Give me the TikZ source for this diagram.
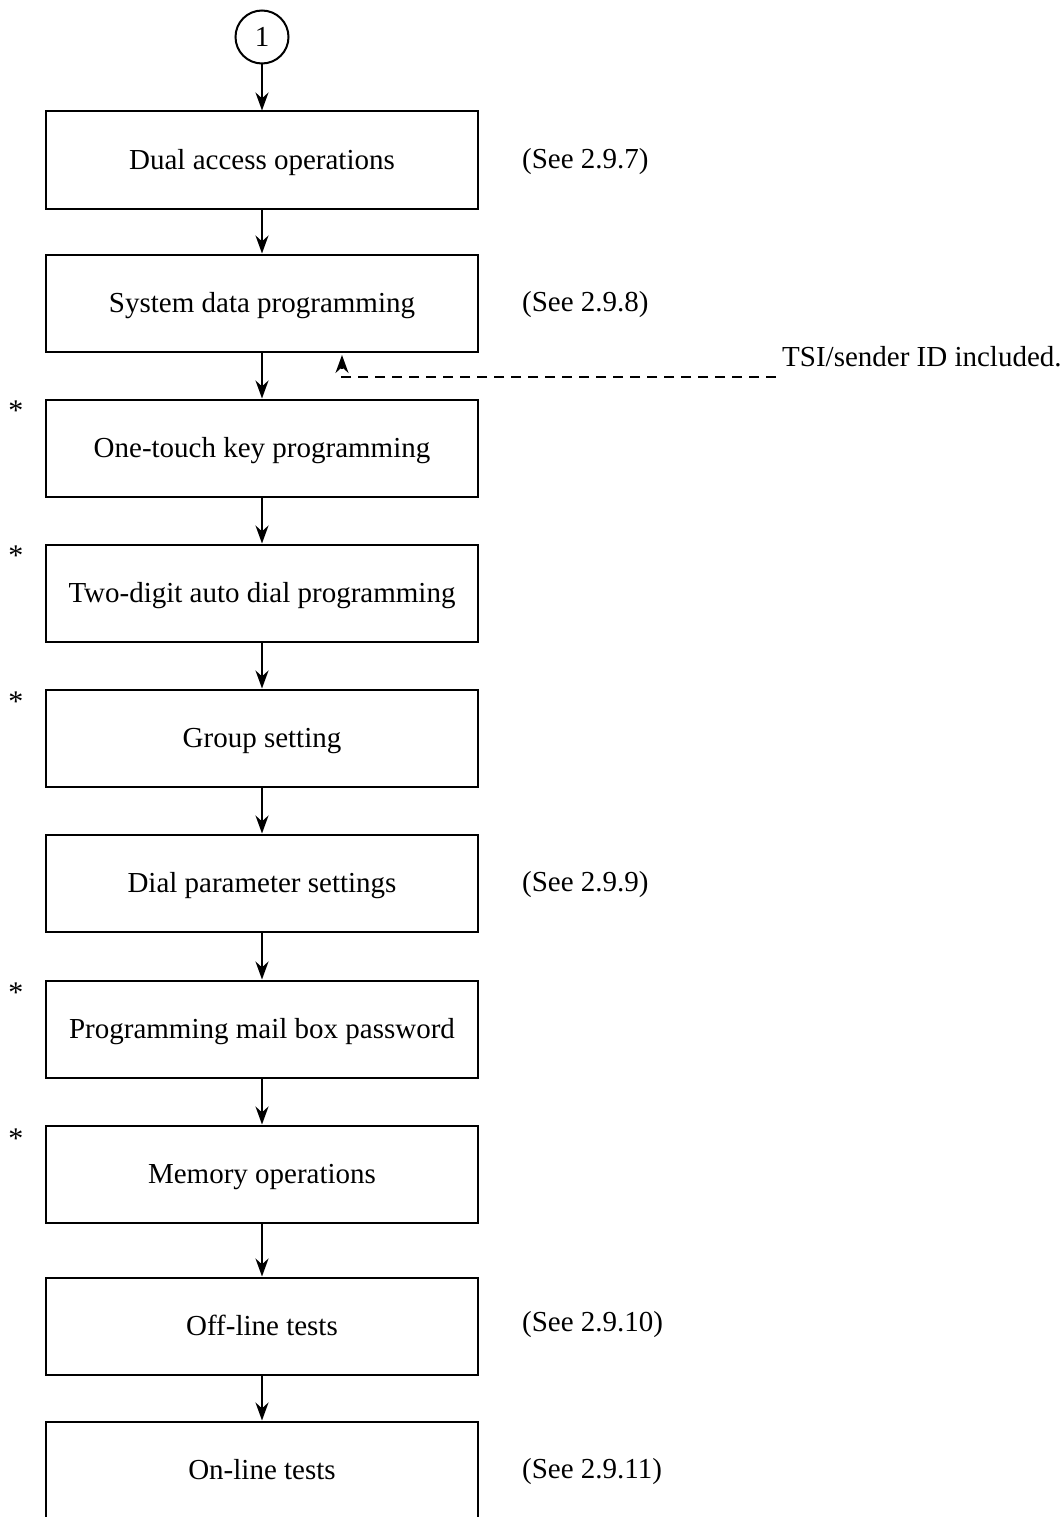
\documentclass[tikz,border=0pt]{standalone}
\usepackage{fontspec}
\setmainfont{Liberation Serif}
\usetikzlibrary{arrows.meta}
\begin{document}
\begin{tikzpicture}[x=1pt,y=-1pt,
  stepbox/.style={draw,line width=2pt,minimum width=432pt,minimum height=97pt,inner sep=0pt,text height=22pt,text depth=3pt,font=\fontsize{29}{34}\selectfont},
  sidelbl/.style={anchor=west,inner sep=0pt,font=\fontsize{29}{34}\selectfont},
  star/.style={inner sep=0pt,font=\fontsize{30}{34}\selectfont},
  flow/.style={line width=2pt,-{Stealth[length=18pt,width=13pt]}},
  fb/.style={line width=2pt,dashed,dash pattern=on 10pt off 7pt,-{Stealth[length=18pt,width=13pt]}}]
\useasboundingbox (0,0) rectangle (1064,1517);
\clip (0,0) rectangle (1064,1517);
\fill[white] (0,0) rectangle (1064,1517);
\node[draw,circle,line width=2pt,minimum size=53pt,inner sep=0pt,font=\fontsize{29}{34}\selectfont] (c) at (262,37) {1};
\node[stepbox] (b1) at (262,160) {Dual access operations};
\node[stepbox] (b2) at (262,303) {System data programming};
\node[stepbox] (b3) at (262,448) {One-touch key programming};
\node[stepbox] (b4) at (262,593) {Two-digit auto dial programming};
\node[stepbox] (b5) at (262,738) {Group setting};
\node[stepbox] (b6) at (262,883) {Dial parameter settings};
\node[stepbox] (b7) at (262,1029) {Programming mail box password};
\node[stepbox] (b8) at (262,1174) {Memory operations};
\node[stepbox] (b9) at (262,1326) {Off-line tests};
\node[stepbox] (b10) at (262,1470) {On-line tests};
\node[sidelbl] (s1) at (522,162) {(See 2.9.7)};
\node[sidelbl] (s2) at (522,305) {(See 2.9.8)};
\node[sidelbl] (s6) at (522,885) {(See 2.9.9)};
\node[sidelbl] (s9) at (522,1325) {(See 2.9.10)};
\node[sidelbl] (s10) at (522,1472) {(See 2.9.11)};
\node[sidelbl] (tsi) at (782,357) {TSI/sender ID included.};
\node[star] (a3) at (16,411) {*};
\node[star] (a4) at (16,556) {*};
\node[star] (a5) at (16,702) {*};
\node[star] (a7) at (16,993) {*};
\node[star] (a8) at (16,1139) {*};
\draw[flow] (c) -- (b1);
\draw[flow] (b1) -- (b2);
\draw[flow] (b2) -- (b3);
\draw[flow] (b3) -- (b4);
\draw[flow] (b4) -- (b5);
\draw[flow] (b5) -- (b6);
\draw[flow] (b6) -- (b7);
\draw[flow] (b7) -- (b8);
\draw[flow] (b8) -- (b9);
\draw[flow] (b9) -- (b10);
\coordinate (fbcorner) at (342,377);
\coordinate (fbend) at (342,355);
\draw[fb] (tsi.west |- fbcorner) ++(-6,0) -- (fbcorner) -- (fbend);
\end{tikzpicture}
\end{document}
